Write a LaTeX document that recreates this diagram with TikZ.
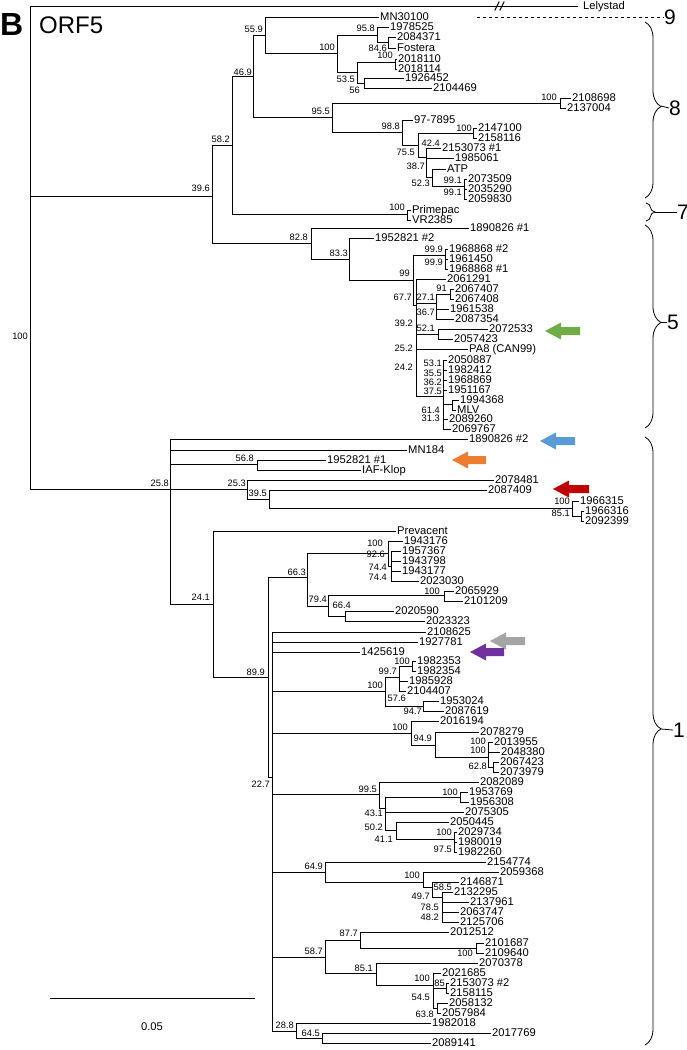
\documentclass[tikz,border=0pt]{standalone}
\usepackage{fontspec}
\setmainfont{Liberation Sans}
\usetikzlibrary{decorations.pathreplacing}
\definecolor{tagGreen}{HTML}{70AD47}
\definecolor{tagBlue}{HTML}{5B9BD5}
\definecolor{tagOrange}{HTML}{ED7D31}
\definecolor{tagRed}{HTML}{C00000}
\definecolor{tagGrey}{HTML}{A5A5A5}
\definecolor{tagPurple}{HTML}{7030A0}
\tikzset{
  branch/.style={line width=1pt, line cap=rect},
  leaf/.style={anchor=west, inner xsep=2pt, inner ysep=0pt, text height=7.8pt, text depth=0pt, font=\fontsize{11.2}{11.2}\selectfont},
  boot/.style={anchor=east, inner sep=0pt, font=\fontsize{9.3}{9.3}\selectfont},
  clade/.style={decorate, decoration={brace, amplitude=16pt, aspect=0.48}, line width=0.8pt},
  cladenum/.style={anchor=west, inner sep=0pt, font=\fontsize{21}{21}\selectfont},
  tag/.style={draw=none}
}
\begin{document}
\begin{tikzpicture}[x=1pt, y=-1pt]
\useasboundingbox (0,0) rectangle (687,1050);

\node[anchor=base west, inner sep=0pt, font=\fontsize{32}{32}\selectfont\bfseries] (panel) at (0,35) {B};
\node[anchor=base west, inner sep=0pt, font=\fontsize{24}{24}\selectfont] (gene) at (39,33) {ORF5};

% leaves, clusters 9, 8, 7 and 5
\node[leaf, inner xsep=6pt] (lLely) at (577,6) {Lelystad};
\node[leaf] (lMN30100) at (378,17) {MN30100};
\node[leaf] (l1978525) at (388,27) {1978525};
\node[leaf] (l2084371) at (395,37) {2084371};
\node[leaf] (lFostera) at (395,48) {Fostera};
\node[leaf] (l2018110) at (396,59) {2018110};
\node[leaf] (l2018114) at (396,69) {2018114};
\node[leaf] (l1926452) at (403,78) {1926452};
\node[leaf] (l2104469) at (431,88) {2104469};
\node[leaf] (l2108698) at (570,98) {2108698};
\node[leaf] (l2137004) at (565,108) {2137004};
\node[leaf] (l977895) at (412,120) {97-7895};
\node[leaf] (l2147100) at (476,128) {2147100};
\node[leaf] (l2158116) at (476,138) {2158116};
\node[leaf] (l2153073a) at (440,148) {2153073 \#1};
\node[leaf] (l1985061) at (453,158) {1985061};
\node[leaf] (lATP) at (445,169) {ATP};
\node[leaf] (l2073509) at (466,179) {2073509};
\node[leaf] (l2035290) at (466,189) {2035290};
\node[leaf] (l2059830) at (466,199) {2059830};
\node[leaf] (lPrimepac) at (410,210) {Primepac};
\node[leaf] (lVR2385) at (410,220) {VR2385};
\node[leaf] (l1890826a) at (468,228) {1890826 \#1};
\node[leaf] (l1952821b) at (373,238) {1952821 \#2};
\node[leaf] (l1968868b) at (447,249) {1968868 \#2};
\node[leaf] (l1961450) at (447,259) {1961450};
\node[leaf] (l1968868a) at (447,269) {1968868 \#1};
\node[leaf] (l2061291) at (445,279) {2061291};
\node[leaf] (l2067407) at (453,289) {2067407};
\node[leaf] (l2067408) at (453,299) {2067408};
\node[leaf] (l1961538) at (448,309) {1961538};
\node[leaf] (l2087354) at (453,319) {2087354};
\node[leaf] (l2072533) at (487,329) {2072533};
\node[leaf] (l2057423) at (452,339) {2057423};
\node[leaf] (lPA8) at (467,349) {PA8 (CAN99)};
\node[leaf] (l2050887) at (446,360) {2050887};
\node[leaf] (l1982412) at (446,370) {1982412};
\node[leaf] (l1968869) at (446,380) {1968869};
\node[leaf] (l1951167) at (446,390) {1951167};
\node[leaf] (l1994368) at (458,400) {1994368};
\node[leaf] (lMLV) at (455,410) {MLV};
\node[leaf] (l2089260) at (447,419) {2089260};
\node[leaf] (l2069767) at (450,429) {2069767};

% leaves, cluster 1
\node[leaf] (l1890826b) at (467,439) {1890826 \#2};
\node[leaf] (lMN184) at (406,450) {MN184};
\node[leaf] (l1952821a) at (325,460) {1952821 \#1};
\node[leaf] (lIAFKlop) at (360,470) {IAF-Klop};
\node[leaf] (l2078481) at (493,480) {2078481};
\node[leaf] (l2087409) at (486,490) {2087409};
\node[leaf] (l1966315) at (578,501) {1966315};
\node[leaf] (l1966316) at (583,511) {1966316};
\node[leaf] (l2092399) at (583,521) {2092399};
\node[leaf] (lPrevacent) at (395,531) {Prevacent};
\node[leaf] (l1943176) at (402,541) {1943176};
\node[leaf] (l1957367) at (400,551) {1957367};
\node[leaf] (l1943798) at (400,561) {1943798};
\node[leaf] (l1943177) at (400,571) {1943177};
\node[leaf] (l2023030) at (418,581) {2023030};
\node[leaf] (l2065929) at (453,591) {2065929};
\node[leaf] (l2101209) at (462,601) {2101209};
\node[leaf] (l2020590) at (393,611) {2020590};
\node[leaf] (l2023323) at (424,621) {2023323};
\node[leaf] (l2108625) at (425,632) {2108625};
\node[leaf] (l1927781) at (417,642) {1927781};
\node[leaf] (l1425619) at (359,652) {1425619};
\node[leaf] (l1982353) at (415,661) {1982353};
\node[leaf] (l1982354) at (415,671) {1982354};
\node[leaf] (l1985928) at (407,681) {1985928};
\node[leaf] (l2104407) at (405,691) {2104407};
\node[leaf] (l1953024) at (438,701) {1953024};
\node[leaf] (l2087619) at (443,711) {2087619};
\node[leaf] (l2016194) at (438,721) {2016194};
\node[leaf] (l2078279) at (478,732) {2078279};
\node[leaf] (l2013955) at (492,742) {2013955};
\node[leaf] (l2048380) at (499,752) {2048380};
\node[leaf] (l2067423) at (498,762) {2067423};
\node[leaf] (l2073979) at (498,772) {2073979};
\node[leaf] (l2082089) at (478,782) {2082089};
\node[leaf] (l1953769) at (467,792) {1953769};
\node[leaf] (l1956308) at (468,802) {1956308};
\node[leaf] (l2075305) at (463,812) {2075305};
\node[leaf] (l2050445) at (448,822) {2050445};
\node[leaf] (l2029734) at (456,832) {2029734};
\node[leaf] (l1980019) at (456,842) {1980019};
\node[leaf] (l1982260) at (456,852) {1982260};
\node[leaf] (l2154774) at (485,862) {2154774};
\node[leaf] (l2059368) at (498,872) {2059368};
\node[leaf] (l2146871) at (458,882) {2146871};
\node[leaf] (l2132295) at (452,892) {2132295};
\node[leaf] (l2137961) at (468,902) {2137961};
\node[leaf] (l2063747) at (458,912) {2063747};
\node[leaf] (l2125706) at (458,922) {2125706};
\node[leaf] (l2012512) at (448,932) {2012512};
\node[leaf] (l2101687) at (483,943) {2101687};
\node[leaf] (l2109640) at (483,953) {2109640};
\node[leaf] (l2070378) at (477,963) {2070378};
\node[leaf] (l2021685) at (440,973) {2021685};
\node[leaf] (l2153073b) at (448,983) {2153073 \#2};
\node[leaf] (l2158115) at (448,993) {2158115};
\node[leaf] (l2058132) at (447,1003) {2058132};
\node[leaf] (l2057984) at (440,1013) {2057984};
\node[leaf] (l1982018) at (430,1023) {1982018};
\node[leaf] (l2017769) at (490,1033) {2017769};
\node[leaf] (l2089141) at (430,1043) {2089141};

% internal nodes
\coordinate (root) at (30,196);
\coordinate (n396) at (212,196);
\coordinate (n582) at (232,145);
\coordinate (n469) at (253,76);
\coordinate (n559) at (265,35);
\coordinate (n100a) at (337,53);
\coordinate (n958) at (377,35);
\coordinate (n846) at (388,42);
\coordinate (n535) at (357,72);
\coordinate (n100b) at (395,62);
\coordinate (n56) at (364,83);
\coordinate (n955) at (332,117);
\coordinate (n100c) at (560,103);
\coordinate (n988) at (402,132);
\coordinate (n755) at (418,145);
\coordinate (n100d) at (473,133);
\coordinate (n424) at (426,157);
\coordinate (n523) at (432,177);
\coordinate (n991) at (464,186);
\coordinate (n100pv) at (407,214);
\coordinate (n828) at (311,243);
\coordinate (n833) at (349,259);
\coordinate (n99) at (413,280);
\coordinate (n999) at (445,255);
\coordinate (nchain) at (416,305);
\coordinate (n271) at (436,303);
\coordinate (n91) at (450,294);
\coordinate (n521) at (438,334);
\coordinate (n242) at (443,396);
\coordinate (n614) at (452,404);
\coordinate (n258) at (170,489);
\coordinate (n568) at (257,464);
\coordinate (n253) at (247,489);
\coordinate (n395) at (269,499);
\coordinate (n100e) at (572,508);
\coordinate (n851a) at (581,516);
\coordinate (n241) at (213,604);
\coordinate (n899) at (268,677);
\coordinate (n663) at (307,577);
\coordinate (n100f) at (388,553);
\coordinate (n926) at (391,566);
\coordinate (n794) at (328,606);
\coordinate (n100g) at (444,595);
\coordinate (n664) at (345,616);
\coordinate (n227) at (272,777);
\coordinate (n100h) at (385,691);
\coordinate (n997) at (399,677);
\coordinate (n100j) at (412,666);
\coordinate (n947) at (423,706);
\coordinate (n100i) at (411,733);
\coordinate (n949) at (435,745);
\coordinate (nB) at (488,757);
\coordinate (n628) at (493,767);
\coordinate (n995) at (379,794);
\coordinate (n431) at (385,808);
\coordinate (n100k) at (460,797);
\coordinate (n411) at (396,830);
\coordinate (n975) at (454,839);
\coordinate (n649) at (325,872);
\coordinate (n100l) at (423,882);
\coordinate (n497) at (432,887);
\coordinate (n585) at (442,897);
\coordinate (n587) at (325,957);
\coordinate (n877) at (360,940);
\coordinate (n100m) at (476,948);
\coordinate (n851b) at (376,973);
\coordinate (n100n) at (433,985);
\coordinate (n85) at (446,988);
\coordinate (n638) at (437,1008);
\coordinate (n288) at (296,1031);
\coordinate (n645) at (322,1038);

% branches
\draw[branch] (root) |- (lLely.west) (root) |- (n396) (root) |- (n258);
\draw[branch] (n396) |- (n582) (n396) |- (n828);
\draw[branch] (n582) |- (n469) (n582) |- (n100pv);
\draw[branch] (n469) |- (n559) (n469) |- (n955);
\draw[branch] (n559) |- (lMN30100.west) (n559) |- (n100a);
\draw[branch] (n100a) |- (n958) (n100a) |- (n535);
\draw[branch] (n958) |- (l1978525.west) (n958) |- (n846);
\draw[branch] (n846) |- (l2084371.west) (n846) |- (lFostera.west);
\draw[branch] (n535) |- (n100b) (n535) |- (n56);
\draw[branch] (n100b) |- (l2018110.west) (n100b) |- (l2018114.west);
\draw[branch] (n56) |- (l1926452.west) (n56) |- (l2104469.west);
\draw[branch] (n955) |- (n100c) (n955) |- (n988);
\draw[branch] (n100c) |- (l2108698.west) (n100c) |- (l2137004.west);
\draw[branch] (n988) |- (l977895.west) (n988) |- (n755);
\draw[branch] (n755) |- (n100d) (n755) |- (n424);
\draw[branch] (n100d) |- (l2147100.west) (n100d) |- (l2158116.west);
\draw[branch] (n424) |- (l2153073a.west) (n424) |- (l1985061.west) (n424) |- (n523);
\draw[branch] (n523) |- (lATP.west) (n523) |- (n991);
\draw[branch] (n991) |- (l2073509.west) (n991) |- (l2035290.west) (n991) |- (l2059830.west);
\draw[branch] (n100pv) |- (lPrimepac.west) (n100pv) |- (lVR2385.west);
\draw[branch] (n828) |- (l1890826a.west) (n828) |- (n833);
\draw[branch] (n833) |- (l1952821b.west) (n833) |- (n99);
\draw[branch] (n99) |- (n999) (n99) |- (nchain);
\draw[branch] (n999) |- (l1968868b.west) (n999) |- (l1961450.west) (n999) |- (l1968868a.west);
\draw[branch] (nchain) |- (l2061291.west) (nchain) |- (n271) (nchain) |- (n521) (nchain) |- (lPA8.west) (nchain) |- (n242);
\draw[branch] (n271) |- (n91) (n271) |- (l1961538.west) (n271) |- (l2087354.west);
\draw[branch] (n91) |- (l2067407.west) (n91) |- (l2067408.west);
\draw[branch] (n521) |- (l2072533.west) (n521) |- (l2057423.west);
\draw[branch] (n242) |- (l2050887.west) (n242) |- (l1982412.west) (n242) |- (l1968869.west) (n242) |- (l1951167.west)
  (n242) |- (n614) (n242) |- (l2089260.west) (n242) |- (l2069767.west);
\draw[branch] (n614) |- (l1994368.west) (n614) |- (lMLV.west);

\draw[branch] (n258) |- (l1890826b.west) (n258) |- (lMN184.west) (n258) |- (n568) (n258) |- (n253) (n258) |- (n241);
\draw[branch] (n568) |- (l1952821a.west) (n568) |- (lIAFKlop.west);
\draw[branch] (n253) |- (l2078481.west) (n253) |- (n395);
\draw[branch] (n395) |- (l2087409.west) (n395) |- (n100e);
\draw[branch] (n100e) |- (l1966315.west) (n100e) |- (n851a);
\draw[branch] (n851a) |- (l1966316.west) (n851a) |- (l2092399.west);
\draw[branch] (n241) |- (lPrevacent.west) (n241) |- (n899);
\draw[branch] (n899) |- (n663) (n899) |- (n227);
\draw[branch] (n663) |- (n100f) (n663) |- (n794);
\draw[branch] (n100f) |- (l1943176.west) (n100f) |- (n926);
\draw[branch] (n926) |- (l1957367.west) (n926) |- (l1943798.west) (n926) |- (l1943177.west) (n926) |- (l2023030.west);
\draw[branch] (n794) |- (n100g) (n794) |- (n664);
\draw[branch] (n100g) |- (l2065929.west) (n100g) |- (l2101209.west);
\draw[branch] (n664) |- (l2020590.west) (n664) |- (l2023323.west);
\draw[branch] (n227) |- (l2108625.west) (n227) |- (l1927781.west) (n227) |- (l1425619.west) (n227) |- (n100h)
  (n227) |- (n100i) (n227) |- (n995) (n227) |- (n649) (n227) |- (n587) (n227) |- (n288);
\draw[branch] (n100h) |- (n997) (n100h) |- (n947);
\draw[branch] (n997) |- (n100j) (n997) |- (l1985928.west) (n997) |- (l2104407.west);
\draw[branch] (n100j) |- (l1982353.west) (n100j) |- (l1982354.west);
\draw[branch] (n947) |- (l1953024.west) (n947) |- (l2087619.west);
\draw[branch] (n100i) |- (l2016194.west) (n100i) |- (n949);
\draw[branch] (n949) |- (l2078279.west) (n949) |- (nB);
\draw[branch] (nB) |- (l2013955.west) (nB) |- (l2048380.west) (nB) |- (n628);
\draw[branch] (n628) |- (l2067423.west) (n628) |- (l2073979.west);
\draw[branch] (n995) |- (l2082089.west) (n995) |- (n431);
\draw[branch] (n431) |- (n100k) (n431) |- (l2075305.west) (n431) |- (n411);
\draw[branch] (n100k) |- (l1953769.west) (n100k) |- (l1956308.west);
\draw[branch] (n411) |- (l2050445.west) (n411) |- (n975);
\draw[branch] (n975) |- (l2029734.west) (n975) |- (l1980019.west) (n975) |- (l1982260.west);
\draw[branch] (n649) |- (l2154774.west) (n649) |- (n100l);
\draw[branch] (n100l) |- (l2059368.west) (n100l) |- (n497);
\draw[branch] (n497) |- (l2146871.west) (n497) |- (n585);
\draw[branch] (n585) |- (l2132295.west) (n585) |- (l2137961.west) (n585) |- (l2063747.west) (n585) |- (l2125706.west);
\draw[branch] (n587) |- (n877) (n587) |- (n851b);
\draw[branch] (n877) |- (l2012512.west) (n877) |- (n100m);
\draw[branch] (n100m) |- (l2101687.west) (n100m) |- (l2109640.west);
\draw[branch] (n851b) |- (l2070378.west) (n851b) |- (n100n);
\draw[branch] (n100n) |- (l2021685.west) (n100n) |- (n85) (n100n) |- (n638);
\draw[branch] (n85) |- (l2153073b.west) (n85) |- (l2158115.west);
\draw[branch] (n638) |- (l2058132.west) (n638) |- (l2057984.west);
\draw[branch] (n288) |- (l1982018.west) (n288) |- (n645);
\draw[branch] (n645) |- (l2017769.west) (n645) |- (l2089141.west);

% break mark on the outgroup branch
\draw[branch] (495,10) -- (499,2) (500,10) -- (504,2);

% bootstrap values
\node[boot] (b01) at (28,336) {100};
\node[boot] (b02) at (210,188) {39.6};
\node[boot] (b03) at (230,139) {58.2};
\node[boot] (b04) at (252,72) {46.9};
\node[boot] (b05) at (263,29) {55.9};
\node[boot] (b06) at (335,47) {100};
\node[boot] (b07) at (375,28) {95.8};
\node[boot] (b08) at (387,48) {84.6};
\node[boot] (b09) at (355,79) {53.5};
\node[boot] (b10) at (393,55) {100};
\node[boot] (b11) at (360,90) {56};
\node[boot] (b12) at (330,111) {95.5};
\node[boot] (b13) at (557,97) {100};
\node[boot] (b14) at (400,126) {98.8};
\node[boot] (b15) at (415,152) {75.5};
\node[boot] (b16) at (472,128) {100};
\node[boot] (b17) at (440,143) {42.4};
\node[boot] (b18) at (425,166) {38.7};
\node[boot] (b19) at (430,183) {52.3};
\node[boot] (b20) at (462,180) {99.1};
\node[boot] (b21) at (462,192) {99.1};
\node[boot] (b22) at (405,207) {100};
\node[boot] (b23) at (308,237) {82.8};
\node[boot] (b24) at (348,253) {83.3};
\node[boot] (b25) at (410,273) {99};
\node[boot] (b26) at (443,249) {99.9};
\node[boot] (b27) at (443,262) {99.9};
\node[boot] (b28) at (412,297) {67.7};
\node[boot] (b29) at (435,297) {27.1};
\node[boot] (b30) at (447,288) {91};
\node[boot] (b31) at (435,312) {36.7};
\node[boot] (b32) at (413,323) {39.2};
\node[boot] (b33) at (435,328) {52.1};
\node[boot] (b34) at (413,348) {25.2};
\node[boot] (b35) at (413,367) {24.2};
\node[boot] (b36) at (442,363) {53.1};
\node[boot] (b37) at (442,373) {35.5};
\node[boot] (b38) at (442,382) {36.2};
\node[boot] (b39) at (442,391) {37.5};
\node[boot] (b40) at (440,410) {61.4};
\node[boot] (b41) at (440,418) {31.3};
\node[boot] (b42) at (169,483) {25.8};
\node[boot] (b43) at (254,458) {56.8};
\node[boot] (b44) at (246,483) {25.3};
\node[boot] (b45) at (267,493) {39.5};
\node[boot] (b46) at (570,501) {100};
\node[boot] (b47) at (570,513) {85.1};
\node[boot] (b48) at (210,597) {24.1};
\node[boot] (b49) at (265,672) {89.9};
\node[boot] (b50) at (306,572) {66.3};
\node[boot] (b51) at (383,543) {100};
\node[boot] (b52) at (385,554) {92.6};
\node[boot] (b53) at (387,567) {74.4};
\node[boot] (b54) at (387,577) {74.4};
\node[boot] (b55) at (327,599) {79.4};
\node[boot] (b56) at (440,591) {100};
\node[boot] (b57) at (351,605) {66.4};
\node[boot] (b58) at (270,784) {22.7};
\node[boot] (b59) at (383,685) {100};
\node[boot] (b60) at (406,698) {57.6};
\node[boot] (b61) at (397,671) {99.7};
\node[boot] (b62) at (410,661) {100};
\node[boot] (b63) at (422,711) {94.7};
\node[boot] (b64) at (408,727) {100};
\node[boot] (b65) at (432,738) {94.9};
\node[boot] (b66) at (486,741) {100};
\node[boot] (b67) at (486,750) {100};
\node[boot] (b68) at (487,766) {62.8};
\node[boot] (b69) at (377,789) {99.5};
\node[boot] (b70) at (383,813) {43.1};
\node[boot] (b71) at (383,827) {50.2};
\node[boot] (b72) at (458,792) {100};
\node[boot] (b73) at (393,839) {41.1};
\node[boot] (b74) at (452,832) {100};
\node[boot] (b75) at (452,849) {97.5};
\node[boot] (b76) at (323,866) {64.9};
\node[boot] (b77) at (420,875) {100};
\node[boot] (b78) at (430,896) {49.7};
\node[boot] (b79) at (452,887) {58.5};
\node[boot] (b80) at (439,907) {78.5};
\node[boot] (b81) at (439,917) {48.2};
\node[boot] (b82) at (323,951) {58.7};
\node[boot] (b83) at (358,933) {87.7};
\node[boot] (b84) at (473,953) {100};
\node[boot] (b85) at (373,968) {85.1};
\node[boot] (b86) at (430,978) {100};
\node[boot] (b87) at (430,997) {54.5};
\node[boot] (b88) at (445,983) {85};
\node[boot] (b89) at (434,1014) {63.8};
\node[boot] (b90) at (294,1025) {28.8};
\node[boot] (b91) at (320,1033) {64.5};

% highlighted strains
\coordinate (tGreen) at (545,331);
\coordinate (tBlue) at (540,441);
\coordinate (tOrange) at (452,460);
\coordinate (tRed) at (553,489);
\coordinate (tGrey) at (490,641);
\coordinate (tPurple) at (470,652);
\fill[tag, tagGreen] (tGreen) -- ++(16,-8.5) -- ++(0,4.5) -- ++(19,0) -- ++(0,8) -- ++(-19,0) -- ++(0,4.5) -- cycle;
\fill[tag, tagBlue] (tBlue) -- ++(16,-8.5) -- ++(0,4.5) -- ++(19,0) -- ++(0,8) -- ++(-19,0) -- ++(0,4.5) -- cycle;
\fill[tag, tagOrange] (tOrange) -- ++(16,-8.5) -- ++(0,4.5) -- ++(18,0) -- ++(0,8) -- ++(-18,0) -- ++(0,4.5) -- cycle;
\fill[tag, tagRed] (tRed) -- ++(16,-8.5) -- ++(0,4.5) -- ++(20,0) -- ++(0,8) -- ++(-20,0) -- ++(0,4.5) -- cycle;
\fill[tag, tagGrey] (tGrey) -- ++(16,-8.5) -- ++(0,4.5) -- ++(19,0) -- ++(0,8) -- ++(-19,0) -- ++(0,4.5) -- cycle;
\fill[tag, tagPurple] (tPurple) -- ++(16,-8.5) -- ++(0,4.5) -- ++(18,0) -- ++(0,8) -- ++(-18,0) -- ++(0,4.5) -- cycle;

% clusters
\coordinate (c9a) at (477,17);
\node[cladenum] (k9) at (664,17) {9};
\draw[line width=0.8pt, dashed] (c9a) -- (k9.west);

\coordinate (c8t) at (645,22);
\coordinate (c8b) at (645,198);
\coordinate (c8tip) at (661,106);
\node[cladenum] (k8) at (669,108) {8};
\draw[clade] (c8t) -- (c8b);
\draw[line width=0.8pt] (c8tip) -- (k8.west);

\coordinate (c7t) at (646,203);
\coordinate (c7b) at (646,221);
\coordinate (c7tip) at (655,212);
\node[cladenum] (k7) at (677,212) {7};
\draw[decorate, decoration={brace, amplitude=9pt}, line width=0.8pt] (c7t) -- (c7b);
\draw[line width=0.8pt] (c7tip) -- (k7.west);

\coordinate (c5t) at (645,225);
\coordinate (c5b) at (645,428);
\coordinate (c5tip) at (661,322);
\node[cladenum] (k5) at (667,322) {5};
\draw[clade] (c5t) -- (c5b);
\draw[line width=0.8pt] (c5tip) -- (k5.west);

\coordinate (c1t) at (645,437);
\coordinate (c1b) at (645,1045);
\coordinate (c1tip) at (661,729);
\node[cladenum] (k1) at (673,730) {1};
\draw[clade] (c1t) -- (c1b);
\draw[line width=0.8pt] (c1tip) -- (k1.west);

% scale bar
\coordinate (sbl) at (50,998);
\coordinate (sbr) at (255,998);
\draw[line width=1pt] (sbl) -- (sbr);
\node[font=\fontsize{11.2}{11.2}\selectfont] (sbtext) at (152,1027) {0.05};

\end{tikzpicture}
\end{document}
